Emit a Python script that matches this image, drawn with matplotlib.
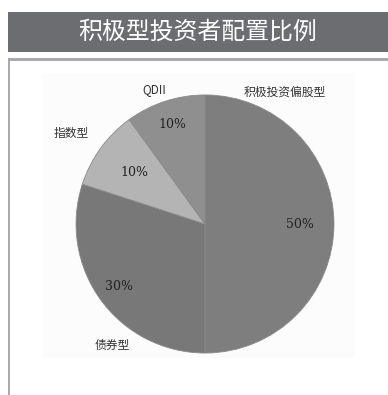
import matplotlib.pyplot as plt
from matplotlib.patches import Rectangle
import numpy as np

plt.rcParams['font.family'] = ['Noto Sans CJK SC', 'DejaVu Sans']

title = '积极型投资者配置比例'
categories = ['积极投资偏股型', '债券型', '指数型', 'QDII']
shares = [50, 30, 10, 10]
colors = ['#7e7e7e', '#787878', '#b4b4b4', '#8f8f8f']
pct_labels = ['50%', '30%', '10%', '10%']

W, H = 388, 395
fig = plt.figure(figsize=(W / 100, H / 100), dpi=100)


def px_rect(x0, y0, x1, y1, z=-1, **kw):
    # rectangle given in pixel coords (top-left origin)
    fig.patches.append(Rectangle((x0 / W, 1 - y1 / H), (x1 - x0) / W, (y1 - y0) / H,
                                 transform=fig.transFigure, zorder=z, **kw))


# title bar
px_rect(8, 12, 388, 52, facecolor='#6c6d71', edgecolor='none')
fig.text(198 / W, 1 - 32 / H, title, color='white', fontsize=17.2,
         ha='center', va='center')
# frame lines
px_rect(8, 58, 388, 61, facecolor='#a9a9ae', edgecolor='none')
px_rect(8, 58, 10, 395, facecolor='#a9a9ae', edgecolor='none')
# faint picture background
px_rect(42, 73, 355, 358, facecolor='#fcfcfc', edgecolor='none')

# pie axes: centre at (205, 224) px, radius 129 px
ax = fig.add_axes([42 / W, 7 / H, 326 / W, 328 / H])
ax.patch.set_visible(False)
ax.axis('off')

wedges, _ = ax.pie(shares, colors=colors, startangle=90, counterclock=False,
                   radius=1.0, wedgeprops=dict(linewidth=0.6, edgecolor='#8a8a8a'))
ax.set_aspect('auto')
ax.set_xlim(-1.264, 1.264)
ax.set_ylim(-1.271, 1.271)

# percentage labels inside the wedges
pct_dist = [0.74, 0.82, 0.68, 0.81]
for w, lab, d in zip(wedges, pct_labels, pct_dist):
    ang = np.deg2rad((w.theta1 + w.theta2) / 2)
    ax.text(d * np.cos(ang), d * np.sin(ang), lab, fontsize=9,
            family=['DejaVu Serif'], color='#222222', ha='center', va='center')

# category labels outside
label_pos = [(0.62, 1.02), (-0.72, -0.94), (-1.04, 0.705), (-0.39, 1.04)]
for lab, (x, y) in zip(categories, label_pos):
    ax.text(x, y, lab, fontsize=8.5, color='#333333', ha='center', va='center')

fig.savefig('out.png', dpi=100)
